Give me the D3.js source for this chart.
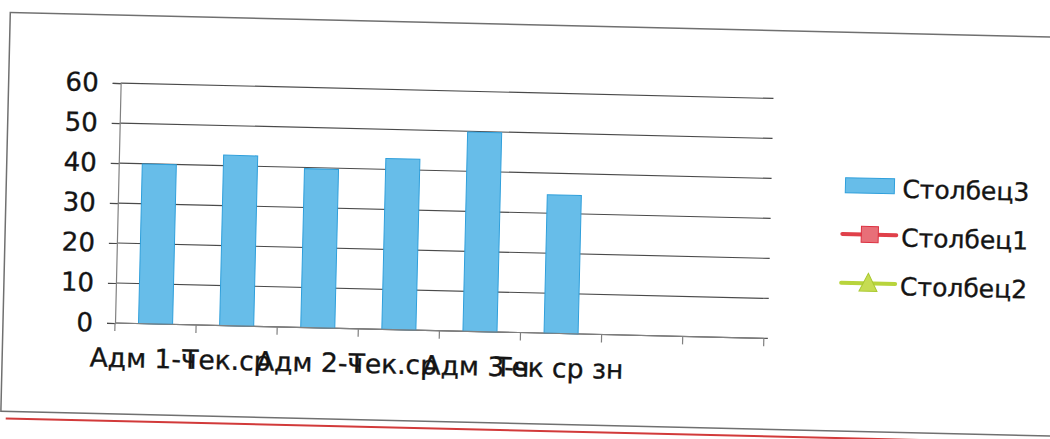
<!DOCTYPE html>
<html><head><meta charset="utf-8">
<script src="https://cdn.jsdelivr.net/npm/d3@7"></script>
<style>html,body{margin:0;padding:0;background:#fff;overflow:hidden}</style>
</head><body>
<svg id="c" width="1050" height="439"></svg>
<script>
// ---- data ----
const categories = ["Адм 1-ч", "Тек.ср", "Адм 2-ч", "Тек.ср", "Адм 3-ч", "Тек ср зн", "", ""];
const stolbets3 = [39.9, 42.6, 39.7, 42.7, 49.8, 34.6, null, null];
const stolbets1 = [null, null, null, null, null, null, null, null];
const stolbets2 = [null, null, null, null, null, null, null, null];
const seriesNames = ["Столбец3", "Столбец1", "Столбец2"];
const yTicks = [0, 10, 20, 30, 40, 50, 60];

// ---- layout ----
const FONT = "DejaVu Sans, Verdana, sans-serif";
const TXT = "#141414";
const pLeft = 115, pRight = 764, pTop = 83, pBottom = 323;
const svg = d3.select("#c");
const g = svg.append("g").attr("transform", "rotate(1.35," + pLeft + "," + pBottom + ")");

// chart frame + page rule
g.append("rect").attr("x", 3).attr("y", 15).attr("width", 1120).attr("height", 399)
  .attr("fill", "none").attr("stroke", "#707070").attr("stroke-width", 1.5);
g.append("line").attr("x1", 8).attr("x2", 1120).attr("y1", 421).attr("y2", 421)
  .attr("stroke", "#d23a3a").attr("stroke-width", 2);

const xCat = d3.scaleBand().domain(d3.range(categories.length)).range([pLeft, pRight]).padding(0);
const xBar = d3.scaleBand().domain(d3.range(categories.length)).range([pLeft, pRight])
  .paddingInner(0.58).paddingOuter(0.29);
const y = d3.scaleLinear().domain([0, 60]).range([pBottom, pTop]);

// gridlines
g.append("g").selectAll("line").data(yTicks).join("line")
  .attr("x1", pLeft).attr("x2", pRight + 4)
  .attr("y1", d => y(d)).attr("y2", d => y(d))
  .attr("stroke", "#4a4a4a").attr("stroke-width", 1.2);

// y axis
const ya = g.append("g").attr("transform", "translate(" + pLeft + ",0)")
  .call(d3.axisLeft(y).tickValues(yTicks).tickSize(8).tickPadding(14));
ya.select(".domain").attr("stroke", "#808080").attr("stroke-width", 1.2);
ya.selectAll(".tick line").attr("stroke", "#4a4a4a").attr("stroke-width", 1.2);
ya.selectAll(".tick text").attr("font-family", FONT).attr("font-size", 26).attr("fill", TXT)
  .attr("stroke", TXT).attr("stroke-width", 0.35);

// bars
g.append("g").selectAll("rect").data(stolbets3.map((v, i) => ({v, i})).filter(d => d.v != null)).join("rect")
  .attr("x", d => xBar(d.i)).attr("width", xBar.bandwidth())
  .attr("y", d => y(d.v)).attr("height", d => y(0) - y(d.v))
  .attr("fill", "#67bde9").attr("stroke", "#2f9fdb").attr("stroke-width", 1);

// x axis
const xa = g.append("g").attr("transform", "translate(0," + pBottom + ")");
xa.append("line").attr("x1", pLeft).attr("x2", pRight).attr("stroke", "#808080").attr("stroke-width", 1.2);
xa.selectAll("line.tk").data(d3.range(categories.length + 1)).join("line").attr("class", "tk")
  .attr("x1", i => pLeft + i * xCat.step()).attr("x2", i => pLeft + i * xCat.step())
  .attr("y1", 0).attr("y2", 8).attr("stroke", "#808080").attr("stroke-width", 1.2);
// labels sit on a slightly wider pitch than the categories in the scan
const lblRef = xCat(5) + xCat.bandwidth() / 2;
xa.selectAll("text").data(categories).join("text")
  .attr("x", (d, i) => { const c = xCat(i) + xCat.bandwidth() / 2; return lblRef + (c - lblRef) * 1.026 - 1; })
  .attr("y", 44)
  .attr("text-anchor", "middle")
  .attr("font-family", FONT).attr("font-size", 26.5).attr("fill", TXT)
  .attr("stroke", TXT).attr("stroke-width", 0.35)
  .text(d => d);

// legend
const lg = g.append("g");
const items = lg.selectAll("g").data(seriesNames).join("g")
  .attr("transform", (d, i) => "translate(842," + (168 + i * 48.8) + ")");
items.filter((d, i) => i === 0).append("rect")
  .attr("x", 0).attr("y", -7.5).attr("width", 49).attr("height", 15)
  .attr("fill", "#67bde9").attr("stroke", "#2f9fdb");
items.filter((d, i) => i === 1).each(function() {
  const s = d3.select(this);
  s.append("line").attr("x1", -2).attr("x2", 52).attr("stroke", "#e0404a").attr("stroke-width", 4).attr("stroke-linecap", "round");
  s.append("rect").attr("x", 17).attr("y", -8).attr("width", 17).attr("height", 16)
    .attr("fill", "#e86f78").attr("stroke", "#dc3040");
});
items.filter((d, i) => i === 2).each(function() {
  const s = d3.select(this);
  s.append("line").attr("x1", -2).attr("x2", 52).attr("stroke", "#b8d43c").attr("stroke-width", 4).attr("stroke-linecap", "round");
  s.append("path").attr("d", "M25,-10 L34,8 L16,8 Z").attr("fill", "#c6dc52").attr("stroke", "#a9c830");
});
items.append("text").attr("x", 57).attr("dy", "0.45em")
  .attr("font-family", FONT).attr("font-size", 25).attr("fill", TXT)
  .attr("stroke", TXT).attr("stroke-width", 0.35)
  .text(d => d);
</script>
</body></html>
